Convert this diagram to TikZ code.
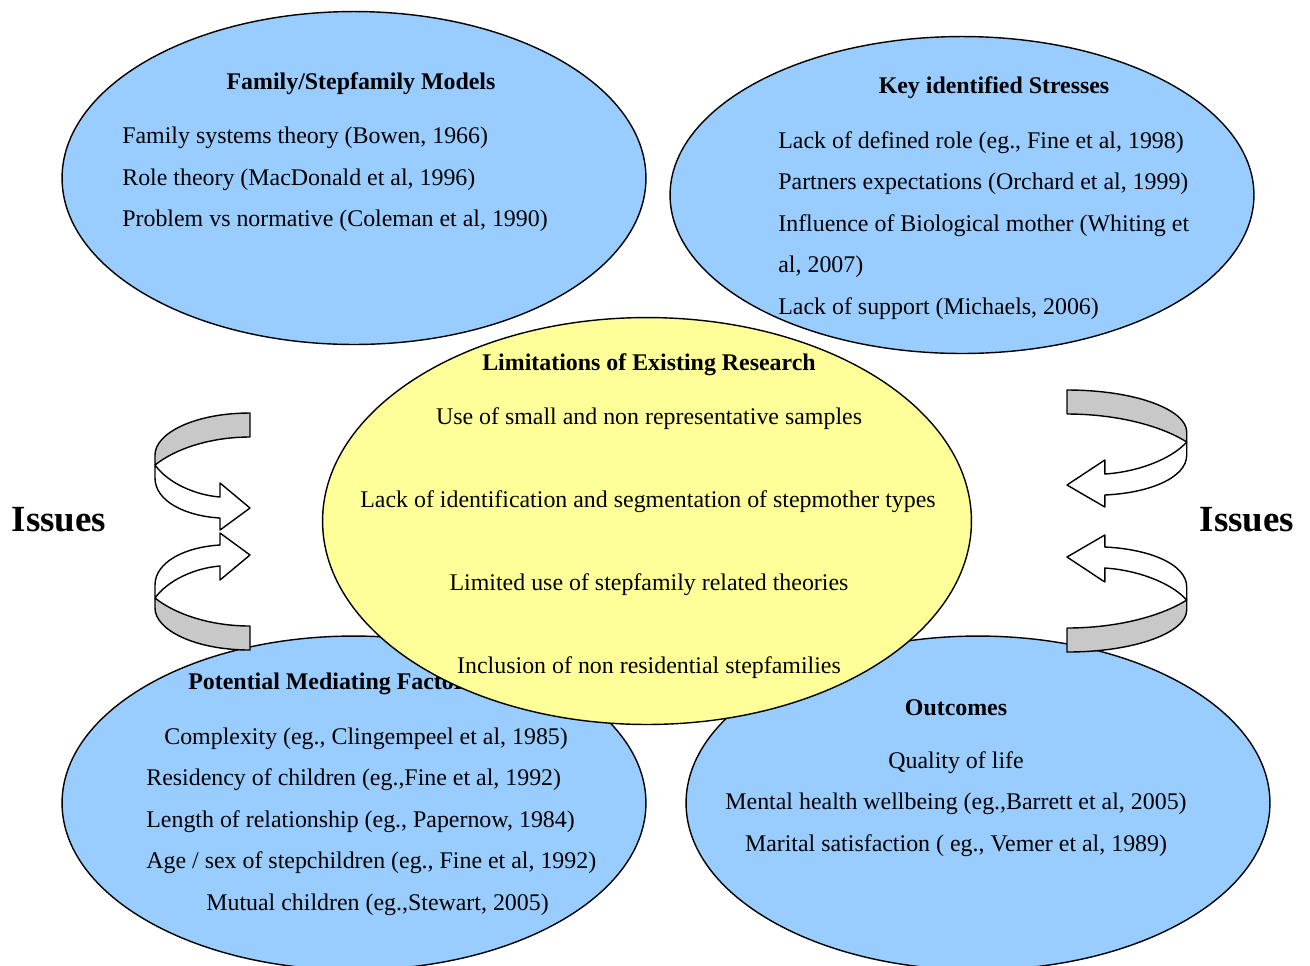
\documentclass[tikz,border=0pt]{standalone}
\usepackage{fontspec}
\setmainfont{Liberation Serif}
\usetikzlibrary{shapes.geometric}

\definecolor{skyblue}{HTML}{99CCFF}
\definecolor{paleyellow}{HTML}{FFFF99}
\definecolor{ribbongray}{HTML}{C8C8C8}

\tikzset{
    bubble/.style = {ellipse, draw, line width = .8pt, inner sep = 0pt},
    bodytext/.style = {font = \fontsize{13.6}{16}\selectfont, inner sep = 0pt, yshift = -1.1pt},
    titletext/.style = {font = \fontsize{13.6}{16}\selectfont\bfseries, inner sep = 0pt, yshift = -1.1pt},
    issuetext/.style = {font = \fontsize{21}{25}\selectfont\bfseries, inner sep = 0pt, yshift = -.6pt},
    % curled ribbon arrow, origin = right end of the grey band
    twist/.pic = {
        \draw[line width = .8pt, fill = white, line join = round]
            (-95,52) .. controls (-82,70) and (-55,82) .. (-30,84)
            -- (-30,70) -- (0,95) -- (-30,117) -- (-30,105)
            .. controls (-65,103) and (-95,88) .. (-95,65) -- cycle;
        \draw[line width = .8pt, fill = ribbongray, line join = round]
            (0,0) .. controls (-55,0) and (-95,20) .. (-95,42)
            -- (-95,52) .. controls (-75,36) and (-40,24) .. (0,24) -- cycle;
    }
}

\begin{document}
\begin{tikzpicture}[x = .02cm, y = -.02cm]
    \useasboundingbox (0,0) rectangle (1310,965);
    \clip (0,0) rectangle (1310,965);

    % the four blue bubbles
    \node[bubble, fill = skyblue, minimum width = 11.68cm, minimum height = 6.66cm] (models) at (354,178) {};
    \node[bubble, fill = skyblue, minimum width = 11.68cm, minimum height = 6.34cm] (stresses) at (962,195) {};
    \node[bubble, fill = skyblue, minimum width = 11.68cm, minimum height = 6.68cm] (factors) at (354,803) {};
    \node[bubble, fill = skyblue, minimum width = 11.68cm, minimum height = 6.68cm] (outcomes) at (978,803) {};

    \node[titletext] (modelsttl) at (361,82) {Family/Stepfamily Models};
    \node[bodytext, anchor = west] (models1) at (122,136) {Family systems theory (Bowen, 1966)};
    \node[bodytext, anchor = west] (models2) at (122,178) {Role theory (MacDonald et al, 1996)};
    \node[bodytext, anchor = west] (models3) at (122,219) {Problem vs normative (Coleman et al, 1990)};

    \node[titletext] (stressesttl) at (994,86) {Key identified Stresses};
    \node[bodytext, anchor = west] (stresses1) at (778,141) {Lack of defined role (eg., Fine et al, 1998)};
    \node[bodytext, anchor = west] (stresses2) at (778,182) {Partners expectations (Orchard et al, 1999)};
    \node[bodytext, anchor = west] (stresses3) at (778,224) {Influence of Biological mother (Whiting et};
    \node[bodytext, anchor = west] (stresses4) at (778,265) {al, 2007)};
    \node[bodytext, anchor = west] (stresses5) at (778,307) {Lack of support (Michaels, 2006)};

    \node[titletext, anchor = west] (factorsttl) at (188,682) {Potential Mediating Factors};
    \node[bodytext, anchor = west] (factors1) at (164,737) {Complexity (eg., Clingempeel et al, 1985)};
    \node[bodytext, anchor = west] (factors2) at (146,778) {Residency of children (eg.,Fine et al, 1992)};
    \node[bodytext, anchor = west] (factors3) at (146,820) {Length of relationship (eg., Papernow, 1984)};
    \node[bodytext, anchor = west] (factors4) at (146,861) {Age / sex of stepchildren (eg., Fine et al, 1992)};
    \node[bodytext, anchor = west] (factors5) at (206,903) {Mutual children (eg.,Stewart, 2005)};

    \node[titletext] (outcomesttl) at (956,706) {Outcomes};
    \node[bodytext] (outcomes1) at (956,761) {Quality of life};
    \node[bodytext] (outcomes2) at (956,802) {Mental health wellbeing (eg.,Barrett et al, 2005)};
    \node[bodytext] (outcomes3) at (956,844) {Marital satisfaction ( eg., Vemer et al, 1989)};

    % yellow bubble sits on top
    \node[bubble, fill = paleyellow, minimum width = 12.98cm, minimum height = 8.14cm] (limits) at (647,521) {};
    \node[titletext] (limitsttl) at (649,363) {Limitations of Existing Research};
    \node[bodytext] (limits1) at (649,417) {Use of small and non representative samples};
    \node[bodytext] (limits2) at (648,500) {Lack of identification and segmentation of stepmother types};
    \node[bodytext] (limits3) at (649,583) {Limited use of stepfamily related theories};
    \node[bodytext] (limits4) at (649,666) {Inclusion of non residential stepfamilies};

    % curled arrows and side labels
    \pic at (250,413) {twist};
    \pic[yscale = -1] at (250,650) {twist};
    \pic[xscale = -1.26] at (1067,390) {twist};
    \pic[xscale = -1.26, yscale = -1] at (1067,652) {twist};

    \node[issuetext] (issuesleft) at (59,519) {Issues};
    \node[issuetext] (issuesright) at (1247,519) {Issues};
\end{tikzpicture}
\end{document}
